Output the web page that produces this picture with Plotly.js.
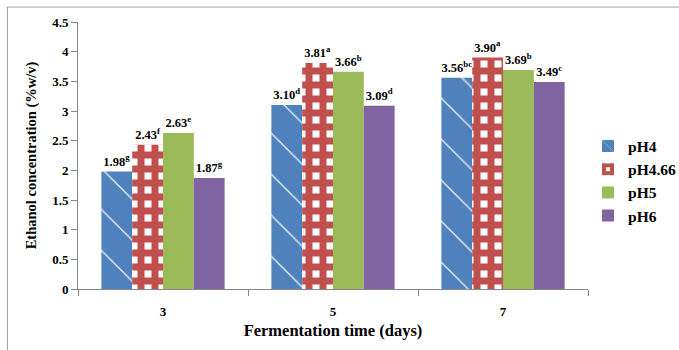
<!DOCTYPE html>
<html>
<head>
<meta charset="utf-8">
<script src="https://cdn.plot.ly/plotly-3.0.1.min.js"></script>
<style>html,body{margin:0;padding:0;background:#fff;}#chart{width:679px;height:350px;}</style>
</head>
<body>
<div id="chart"></div>
<script>
var categories = ['3', '5', '7'];
var seriesNames = ['pH4', 'pH4.66', 'pH5', 'pH6'];
var pH4 = [1.98, 3.10, 3.56];
var pH466 = [2.43, 3.81, 3.90];
var pH5 = [2.63, 3.66, 3.69];
var pH6 = [1.87, 3.09, 3.49];
var pH4Letters = ['g', 'd', 'bc'];
var pH466Letters = ['f', 'a', 'a'];
var pH5Letters = ['e', 'b', 'b'];
var pH6Letters = ['g', 'd', 'c'];
var yTicks = [0, 0.5, 1, 1.5, 2, 2.5, 3, 3.5, 4, 4.5];

var FONT = 'Liberation Serif, Times New Roman, serif';

function labels(vals, letters) {
  return vals.map(function (v, i) { return v.toFixed(2) + '<sup>' + letters[i] + '</sup>'; });
}

function mk(name, vals, letters, color, pattern) {
  return {
    type: 'bar', name: name, x: categories, y: vals,
    text: labels(vals, letters), textposition: 'outside', constraintext: 'none',
    cliponaxis: false,
    textfont: {family: FONT, size: 12.5, color: '#000', weight: 'bold'},
    marker: {color: color, pattern: pattern, line: {width: 0}},
    hoverinfo: 'x+y'
  };
}

var data = [
  mk(seriesNames[0], pH4, pH4Letters, '#4F81BD', {shape: '\\', fgcolor: '#dfe8f3', bgcolor: '#4F81BD', size: 29, solidity: 0.05}),
  mk(seriesNames[1], pH466, pH466Letters, '#C0504D', {shape: '+', fgcolor: '#C0504D', bgcolor: '#ffffff', size: 14, solidity: 0.75}),
  mk(seriesNames[2], pH5, pH5Letters, '#9BBB59', {shape: ''}),
  mk(seriesNames[3], pH6, pH6Letters, '#8064A2', {shape: ''})
];

var layout = {
  width: 679, height: 350,
  margin: {l: 78, r: 88, t: 22, b: 61},
  paper_bgcolor: '#fff', plot_bgcolor: '#fff',
  barmode: 'group', bargap: 0.275, bargroupgap: 0,
  font: {family: FONT, color: '#000'},
  showlegend: true,
  legend: {xref: 'container', yref: 'container', x: 0.866, xanchor: 'left', y: 0.63, yanchor: 'top', tracegroupgap: 0,
           font: {family: FONT, size: 15.5, color: '#000', weight: 'bold'}, itemwidth: 30, bgcolor: 'rgba(0,0,0,0)'},
  xaxis: {
    type: 'category', showline: true, linecolor: '#868686', linewidth: 1,
    ticks: 'outside', tickson: 'boundaries', ticklen: 6, tickcolor: '#868686',
    showgrid: false, zeroline: false, ticklabelstandoff: 10,
    tickfont: {family: FONT, size: 13, weight: 'bold'},
    title: {text: 'Fermentation time (days)', font: {family: FONT, size: 16.5, weight: 'bold'}, standoff: 6}
  },
  yaxis: {
    range: [0, 4.5], tickvals: yTicks, ticktext: yTicks.map(String),
    showline: true, linecolor: '#868686', linewidth: 1,
    ticks: 'outside', ticklen: 6, tickcolor: '#868686',
    showgrid: false, zeroline: false,
    tickfont: {family: FONT, size: 13, weight: 'bold'},
    title: {text: 'Ethanol concentration (%w/v)', font: {family: FONT, size: 14.5, weight: 'bold'}, standoff: 12}
  },
  shapes: [{type: 'rect', xref: 'paper', yref: 'paper', x0: -0.1384, x1: 1.2, y0: -0.26, y1: 1.056,
            line: {color: '#a0a0a0', width: 1}, fillcolor: 'rgba(0,0,0,0)', layer: 'below'}]
};

Plotly.newPlot('chart', data, layout, {displayModeBar: false, staticPlot: true});
</script>
</body>
</html>
